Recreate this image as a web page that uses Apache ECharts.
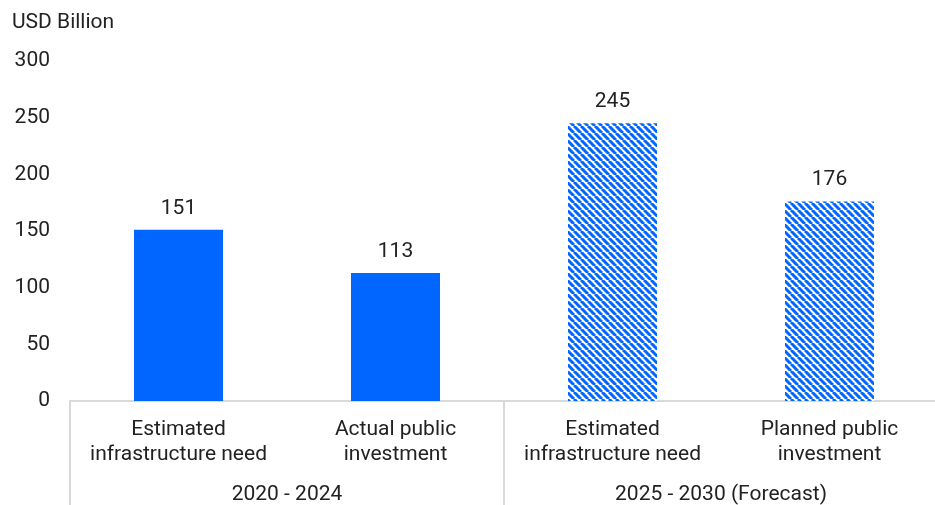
<!DOCTYPE html>
<html>
<head>
<meta charset="utf-8">
<script src="https://cdn.jsdelivr.net/npm/echarts@6/dist/echarts.min.js"></script>
<style>
  html, body { margin: 0; padding: 0; background: #fff; overflow: hidden; }
  #chart { width: 938px; height: 505px; }
</style>
</head>
<body>
<div id="chart"></div>
<script>
// Infrastructure need vs public investment, USD billion
const categories = [
  'Estimated\ninfrastructure need',
  'Actual public\ninvestment',
  'Estimated\ninfrastructure need',
  'Planned public\ninvestment'
];
const periods = ['2020 - 2024', '2025 - 2030 (Forecast)'];
const values = [151, 113, 245, 176];
const forecast = [false, false, true, true];
const yTicks = { min: 0, max: 300, interval: 50 };

const BLUE = '#0066ff';
const FONT = 'Roboto, "Noto Sans", sans-serif';

// diagonal stripe fill for forecast bars
function stripeTile() {
  const s = 7;
  const c = document.createElement('canvas');
  c.width = s; c.height = s;
  const ctx = c.getContext('2d');
  ctx.fillStyle = '#ffffff';
  ctx.fillRect(0, 0, s, s);
  ctx.strokeStyle = BLUE;
  ctx.lineWidth = 3;
  ctx.beginPath();
  for (const k of [-s, 0, s]) {
    ctx.moveTo(k, 0);
    ctx.lineTo(k + s, s);
  }
  ctx.stroke();
  return c;
}
const stripes = { image: stripeTile(), repeat: 'repeat' };

const chart = echarts.init(document.getElementById('chart'), null, { renderer: 'canvas' });
chart.setOption({
  animation: false,
  textStyle: { fontFamily: FONT },
  title: {
    text: 'USD Billion',
    left: 7, top: 7,
    textStyle: { fontFamily: FONT, fontSize: 21, fontWeight: 'normal', color: '#222' }
  },
  grid: { left: 70, top: 61, right: 0, bottom: 103, containLabel: false },
  xAxis: [
    {
      type: 'category',
      data: categories,
      axisLine: { lineStyle: { color: '#d9d9d9', width: 2 } },
      axisTick: { show: false },
      axisLabel: {
        interval: 0, margin: 16, lineHeight: 25,
        fontFamily: FONT, fontSize: 21, color: '#222'
      }
    },
    {
      type: 'category',
      position: 'bottom',
      data: periods,
      axisLine: { show: false },
      axisTick: { show: true, length: 110, lineStyle: { color: '#d9d9d9', width: 2 } },
      axisLabel: { interval: 0, margin: 83, fontFamily: FONT, fontSize: 21, color: '#222' }
    }
  ],
  yAxis: {
    type: 'value',
    min: yTicks.min, max: yTicks.max, interval: yTicks.interval,
    axisLine: { show: false },
    axisTick: { show: false },
    splitLine: { show: false },
    axisLabel: { margin: 20, fontFamily: FONT, fontSize: 21, color: '#222' }
  },
  series: [{
    type: 'bar',
    xAxisIndex: 0,
    barWidth: 89,
    data: values.map((v, i) => ({
      value: v,
      itemStyle: { color: forecast[i] ? stripes : BLUE }
    })),
    label: {
      show: true, position: 'top', distance: 11,
      fontFamily: FONT, fontSize: 21, color: '#222'
    }
  }]
});
</script>
</body>
</html>
